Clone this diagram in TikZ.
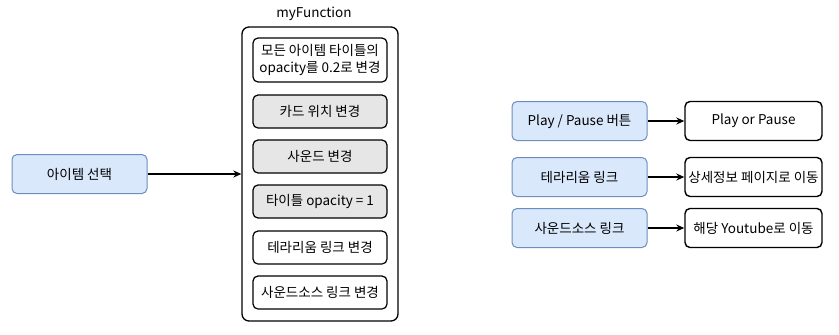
\documentclass[tikz,border=0pt]{standalone}
\usepackage{fontspec}
\setmainfont{Noto Sans CJK KR}
\usetikzlibrary{arrows.meta}

\definecolor{bluefill}{HTML}{DAE8FC}
\definecolor{blueedge}{HTML}{6C8EBF}
\definecolor{grayfill}{HTML}{E6E6E6}

\tikzset{
  every node/.style={font=\fontsize{13.5}{16.5}\selectfont, inner sep=0pt},
  trigger/.style={draw=blueedge, fill=bluefill, line width=1pt,
    rounded corners=5pt, minimum width=135pt, minimum height=39pt},
  result/.style={draw, line width=1.4pt, rounded corners=5pt,
    minimum width=137pt, minimum height=39pt},
  action/.style={draw, line width=1.2pt, rounded corners=5pt,
    minimum width=134pt, minimum height=33pt},
  actiongray/.style={action, fill=grayfill},
  funcbox/.style={draw, line width=1.3pt, rounded corners=7pt,
    minimum width=156pt, minimum height=294pt},
  link/.style={-{Stealth[length=8pt,width=7pt]}, line width=1.3pt}
}

\begin{document}
\begin{tikzpicture}[x=1pt,y=-1pt]
  \useasboundingbox (0,0) rectangle (839,335);

  % left trigger
  \node[trigger] (select) at (79.5,174) {아이템 선택};

  % myFunction container
  \node[funcbox] (func) at (320,174) {};
  \node (functitle) at (314,14) {myFunction};
  \node[action, minimum height=44pt, align=center] (act1) at (320,60)
    {모든 아이템 타이틀의\\opacity를 0.2로 변경};
  \node[actiongray] (act2) at (320,111.5) {카드 위치 변경};
  \node[actiongray] (act3) at (320,156.5) {사운드 변경};
  \node[actiongray] (act4) at (320,201.5) {타이틀 opacity = 1};
  \node[action] (act5) at (320,247.5) {테라리움 링크 변경};
  \node[action] (act6) at (320,292.5) {사운드소스 링크 변경};

  \draw[link] (select) -- (func);

  % right side triggers and results
  \node[trigger] (play) at (579.5,121) {Play / Pause 버튼};
  \node[trigger] (terra) at (579.5,177) {테라리움 링크};
  \node[trigger] (sound) at (579.5,228) {사운드소스 링크};
  \node[result] (playres) at (753.5,121) {Play or Pause};
  \node[result] (terrares) at (753.5,177) {상세정보 페이지로 이동};
  \node[result] (soundres) at (753.5,228) {해당 Youtube로 이동};

  \draw[link] (play) -- (playres);
  \draw[link] (terra) -- (terrares);
  \draw[link] (sound) -- (soundres);
\end{tikzpicture}
\end{document}
